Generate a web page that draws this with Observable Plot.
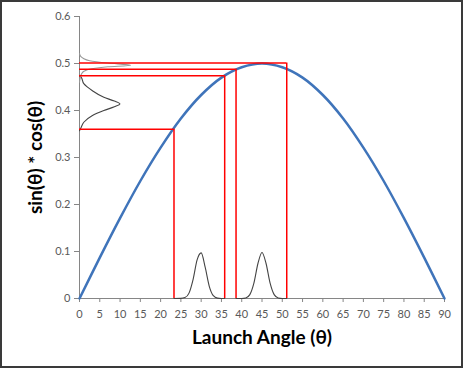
<!DOCTYPE html>
<html><head><meta charset="utf-8">
<script src="https://cdn.jsdelivr.net/npm/d3@7"></script>
<script src="https://cdn.jsdelivr.net/npm/@observablehq/plot@0.6"></script>
<style>
html,body{margin:0;padding:0;background:#fff;}
#wrap{position:relative;width:463px;height:368px;overflow:hidden;}
#border{position:absolute;left:0;top:0;width:463px;height:368px;box-sizing:border-box;border:2px solid #3a3a3a;pointer-events:none;}
svg{display:block;}
g[aria-label="x-axis label"] text, g[aria-label="y-axis label"] text{font-size:19px;font-weight:bold;fill:#000;}
</style></head><body>
<div id="wrap"><div id="border"></div></div>
<script>
// Main curve: sin(θ)·cos(θ) read at each 5° tick
const angles = [0,5,10,15,20,25,30,35,40,45,50,55,60,65,70,75,80,85,90];
const sinCos = [0,0.087,0.171,0.25,0.321,0.383,0.433,0.47,0.492,0.5,0.492,0.47,0.433,0.383,0.321,0.25,0.171,0.087,0];

// Bell curves on the angle axis
const bump1Angle = [23.3,25,26,27,28,29,30,31,32,33,34,35,35.8];
const bump1Value = [0,0.0002,0.0019,0.0114,0.0403,0.0822,0.097,0.066,0.026,0.0059,0.0008,0.0001,0];
const bump2Angle = [38.6,40,41,42,43,44,45,46,47,48,49,50,51.1];
const bump2Value = [0,0.0001,0.0012,0.0083,0.0327,0.0745,0.098,0.0745,0.0327,0.0083,0.0012,0.0001,0];

// Output distributions on the value axis (value, extent in angle units)
const darkValue = [0.357,0.364,0.375,0.389,0.4,0.408,0.414,0.42,0.428,0.4426,0.457,0.471,0.474];
const darkExtent = [0,0.4,1.06,3.1,6,8.6,9.95,8.6,6,3.1,1.06,0.4,0];
const spikeValue = [0.46,0.47,0.478,0.484,0.489,0.493,0.4964,0.501,0.506,0.511,0.515,0.521];
const spikeExtent = [0,0.2,0.5,1.2,3,7,12.6,7,2.5,0.9,0.3,0];

// Red range boxes
const rangeAngle = [23.3,35.8,38.6,51.1];
const rangeLevel = [0.36,0.474,0.488,0.501];

// Ticks
const xTicks = [0,5,10,15,20,25,30,35,40,45,50,55,60,65,70,75,80,85,90];
const xTickLabels = ["0","5","10","15","20","25","30","35","40","45","50","55","60","65","70","75","80","85","90"];
const yTicks = [0,0.1,0.2,0.3,0.4,0.5,0.6];
const yTickLabels = ["0","0.1","0.2","0.3","0.4","0.5","0.6"];

const curve = angles.map((a,i)=>({a, v: sinCos[i]}));
const bump1 = bump1Angle.map((a,i)=>({a, v: bump1Value[i]}));
const bump2 = bump2Angle.map((a,i)=>({a, v: bump2Value[i]}));
const dark = darkValue.map((v,i)=>({a: darkExtent[i], v}));
const spike = spikeValue.map((v,i)=>({a: spikeExtent[i], v}));
const ranges = rangeAngle.map((a,i)=>({a, v: rangeLevel[i]}));

const chart = Plot.plot({
  width: 463, height: 368,
  marginLeft: 79, marginRight: 19, marginTop: 16, marginBottom: 70,
  style: {fontFamily: "Lato, 'Open Sans', sans-serif", fontSize: "11px", background: "#fff"},
  x: {domain: [0, 90]},
  y: {domain: [0, 0.6]},
  marks: [
    Plot.axisX({ticks: xTicks, tickFormat: (d)=>xTickLabels[xTicks.indexOf(d)], tickSize: 4, tickPadding: 8,
      stroke: "#868686", fill: "#595959", label: "Launch Angle (θ)", labelArrow: "none", labelAnchor: "center", labelOffset: 45}),
    Plot.axisY({ticks: yTicks, tickFormat: (d)=>yTickLabels[yTicks.indexOf(d)], tickSize: 5, tickPadding: 4,
      stroke: "#868686", fill: "#595959", label: "sin(θ) * cos(θ)", labelArrow: "none", labelAnchor: "center", labelOffset: 51}),
    Plot.ruleX([0], {stroke: "#868686"}),
    Plot.ruleY([0], {stroke: "#868686"}),
    Plot.line(bump1, {x: "a", y: "v", stroke: "#444", strokeWidth: 1.1, curve: "monotone-x"}),
    Plot.line(bump2, {x: "a", y: "v", stroke: "#444", strokeWidth: 1.1, curve: "monotone-x"}),
    Plot.line(dark, {x: "a", y: "v", stroke: "#444", strokeWidth: 1.1, curve: "monotone-y"}),
    Plot.line(spike, {x: "a", y: "v", stroke: "#999", strokeWidth: 1.1, curve: "monotone-y"}),
    Plot.line(curve, {x: "a", y: "v", stroke: "#3f74ba", strokeWidth: 2.5, curve: "catmull-rom"}),
    Plot.ruleX(ranges, {x: "a", y1: 0, y2: "v", stroke: "#ff0000", strokeWidth: 1.5}),
    Plot.ruleY(ranges, {y: "v", x1: 0, x2: "a", stroke: "#ff0000", strokeWidth: 1.5})
  ]
});
document.getElementById("wrap").prepend(chart);
</script>
</body></html>
